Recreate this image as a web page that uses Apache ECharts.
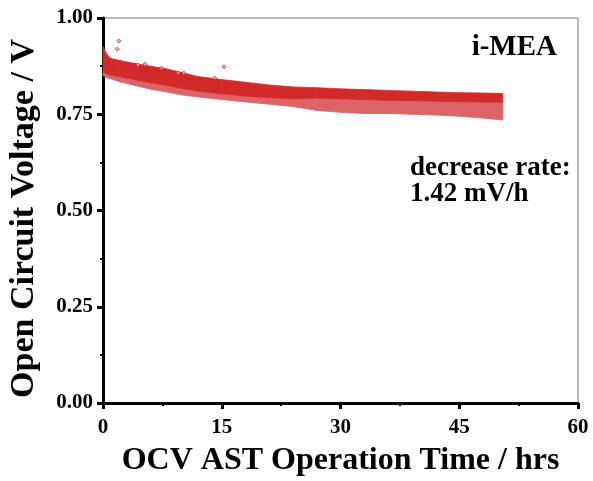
<!DOCTYPE html>
<html><head><meta charset="utf-8">
<script src="https://cdn.jsdelivr.net/npm/echarts@6/dist/echarts.min.js"></script>
<style>html,body{margin:0;padding:0;background:#fff}#c{width:593px;height:481px}</style>
</head><body><div id="c"></div>
<script>
// Times (hrs) at which band edges were read
var times = [0, 0.5, 1, 2, 4, 6, 8, 10, 12, 15, 18, 21, 24, 27, 30, 33, 36, 39, 42, 45, 48, 50.5];
// Upper edge of the dense OCV point cloud (V)
var upperV = [0.925, 0.905, 0.895, 0.890, 0.882, 0.875, 0.868, 0.858, 0.848, 0.840, 0.833, 0.826, 0.821, 0.819, 0.816, 0.814, 0.812, 0.810, 0.808, 0.806, 0.805, 0.804];
// Lower edge of the solid (dense) part (V)
var solidLowerV = [0.860, 0.855, 0.852, 0.848, 0.840, 0.832, 0.825, 0.817, 0.810, 0.803, 0.797, 0.793, 0.790, 0.792, 0.790, 0.788, 0.786, 0.785, 0.784, 0.783, 0.782, 0.781];
// Lower edge of the sparse speckled part (V)
var speckleLowerV = [0.850, 0.845, 0.842, 0.835, 0.825, 0.815, 0.808, 0.800, 0.795, 0.788, 0.782, 0.776, 0.770, 0.760, 0.755, 0.752, 0.752, 0.750, 0.748, 0.745, 0.740, 0.735];
// Isolated outlier points
var outlierT = [2.0, 1.8, 4.4, 5.3, 7.4, 9.5, 10.2, 15.3, 14.1];
var outlierV = [0.940, 0.919, 0.878, 0.880, 0.870, 0.857, 0.857, 0.873, 0.844];
var xTicks = [0, 60, 15];
var yTicks = [0, 1, 0.25];

(function () {
var serif = 'Liberation Serif';
var red = '#d22a2a';
function segs(lo, hi) {
  var out = [];
  for (var i = 0; i < times.length - 1; i++) {
    out.push([times[i], times[i + 1], lo[i], lo[i + 1], hi[i], hi[i + 1]]);
  }
  return out;
}
function renderBand(color) {
  return function (params, api) {
    var p1 = api.coord([api.value(0), api.value(4)]);
    var p2 = api.coord([api.value(1), api.value(5)]);
    var p3 = api.coord([api.value(1), api.value(3)]);
    var p4 = api.coord([api.value(0), api.value(2)]);
    return { type: 'polygon', shape: { points: [p1, p2, p3, p4] },
      style: { fill: color, stroke: color, lineWidth: 0.8 } };
  };
}
var bandEncode = { x: [0, 1], y: [2, 3, 4, 5] };

var chart = echarts.init(document.getElementById('c'));
chart.setOption({
  animation: false,
  grid: { left: 103, top: 18, right: 15, bottom: 78, show: true, borderColor: '#777', borderWidth: 1,
    outerBoundsMode: 'none', containLabel: false },
  xAxis: {
    type: 'value', min: xTicks[0], max: xTicks[1], interval: xTicks[2],
    axisLine: { lineStyle: { color: '#000', width: 3 } },
    axisTick: { inside: false, length: 6, lineStyle: { width: 3, color: '#000' } },
    minorTick: { show: true, splitNumber: 2, length: 3, lineStyle: { width: 2, color: '#000' } },
    splitLine: { show: false },
    axisLabel: { fontFamily: serif, fontWeight: 'bold', fontSize: 21, color: '#000', margin: 14 },
    name: 'OCV AST Operation Time / hrs', nameLocation: 'middle', nameGap: 42,
    nameTextStyle: { fontFamily: serif, fontWeight: 'bold', fontSize: 32, color: '#000' }
  },
  yAxis: {
    type: 'value', min: yTicks[0], max: yTicks[1], interval: yTicks[2],
    axisLine: { lineStyle: { color: '#000', width: 3 } },
    axisTick: { inside: false, length: 6, lineStyle: { width: 3, color: '#000' } },
    minorTick: { show: true, splitNumber: 2, length: 3, lineStyle: { width: 2, color: '#000' } },
    splitLine: { show: false },
    axisLabel: { fontFamily: serif, fontWeight: 'bold', fontSize: 21, color: '#000', margin: 10,
      formatter: function (v) { return v.toFixed(2); } },
    name: 'Open Circuit Voltage / V', nameLocation: 'middle', nameGap: 62,
    nameTextStyle: { fontFamily: serif, fontWeight: 'bold', fontSize: 34, color: '#000', padding: [0, 16, 0, 0] }
  },
  series: [
    { type: 'custom', data: segs(speckleLowerV, solidLowerV), encode: bandEncode, renderItem: renderBand('#dc6366'), z: 2, silent: true },
    { type: 'custom', data: segs(solidLowerV, upperV), encode: bandEncode, renderItem: renderBand(red), z: 3, silent: true },
    { type: 'scatter', data: outlierT.map(function (t, i) { return [t, outlierV[i]]; }), symbol: 'diamond', symbolSize: 4,
      itemStyle: { color: '#e8b0b4', borderColor: '#b03040', borderWidth: 1 }, z: 4 }
  ],
  graphic: [
    { type: 'text', x: 557, y: 48, style: { text: 'i-MEA', font: 'bold 29px "Liberation Serif"', fill: '#000', align: 'right', verticalAlign: 'middle' } },
    { type: 'text', x: 410, y: 168, style: { text: 'decrease rate:', font: 'bold 27px "Liberation Serif"', fill: '#000', align: 'left', verticalAlign: 'middle' } },
    { type: 'text', x: 410, y: 194, style: { text: '1.42 mV/h', font: 'bold 27px "Liberation Serif"', fill: '#000', align: 'left', verticalAlign: 'middle' } }
  ]
});
})();
</script></body></html>
